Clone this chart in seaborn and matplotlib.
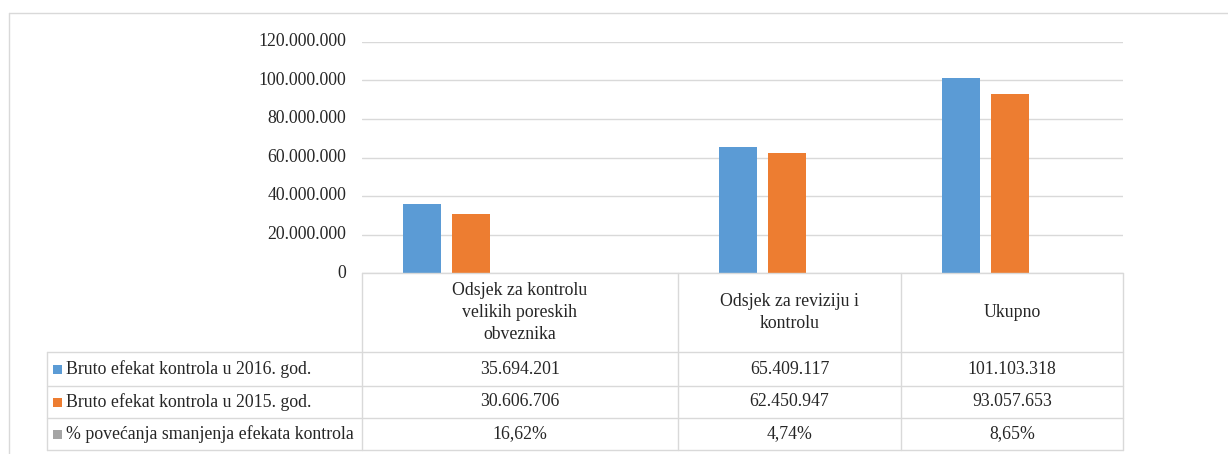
import numpy as np
import pandas as pd
import matplotlib
matplotlib.use("Agg")
import matplotlib.pyplot as plt
from matplotlib.lines import Line2D
from matplotlib.patches import Rectangle
import seaborn as sns

# ---------------- data ----------------
categories = ["Odsjek za kontrolu\nvelikih poreskih\nobveznika",
              "Odsjek za reviziju i\nkontrolu",
              "Ukupno"]
series_names = ["Bruto efekat kontrola u 2016. god.",
                "Bruto efekat kontrola u 2015. god.",
                "% povećanja smanjenja efekata kontrola"]
values_2016 = [35694201, 65409117, 101103318]
values_2015 = [30606706, 62450947, 93057653]
pct_change = [16.62, 4.74, 8.65]
yticks = [0, 20000000, 40000000, 60000000, 80000000, 100000000, 120000000]

# ---------------- style ----------------
sns.set_style("white")
plt.rcParams["font.family"] = ["Liberation Serif", "DejaVu Serif"]
BLUE, ORANGE, GRAY = "#5B9BD5", "#ED7D31", "#A5A5A5"
GRID = "#D9D9D9"
FS = 12.8

W, H = 1228, 454
fig = plt.figure(figsize=(W / 100, H / 100), dpi=100)


def fx(x):
    return x / W


def fy(y):
    return 1 - y / H


# layout (pixels)
plot_left, plot_right = 362, 1123
y_top, y_zero = 42, 273
col_widths = [316, 223, 222]
col_edges = np.concatenate([[0], np.cumsum(col_widths)])
group_offset = 84.5
bar_w, bar_gap = 38, 11

ax = fig.add_axes([fx(plot_left), fy(y_zero), (plot_right - plot_left) / W, (y_zero - y_top) / H])

pos = [col_edges[i] + group_offset for i in range(len(categories))]
df = pd.DataFrame({
    "pos": pos * 2,
    "series": [series_names[0]] * 3 + [series_names[1]] * 3,
    "value": values_2016 + values_2015,
})
min_dist = np.min(np.diff(sorted(pos)))
slot = bar_w + bar_gap
sns.barplot(data=df, x="pos", y="value", hue="series", native_scale=True,
            width=2 * slot / min_dist, gap=bar_gap / slot, saturation=1,
            palette=[BLUE, ORANGE], legend=False, ax=ax,
            hue_order=series_names[:2], linewidth=0, edgecolor="none")

ax.set_xlim(0, col_edges[-1])
ax.set_ylim(0, 120000000)
ax.set_yticks(yticks)
ax.set_yticklabels([])
ax.set_xticks([])
ax.set_xlabel("")
ax.set_ylabel("")
for s in ax.spines.values():
    s.set_visible(False)
ax.tick_params(left=False, bottom=False)
ax.set_axisbelow(True)
ax.yaxis.grid(True, color=GRID, linewidth=1.0)
ax.patch.set_alpha(0)


def fmt_int(v):
    return f"{v:,}".replace(",", ".")


def fmt_pct(v):
    return f"{v:.2f}%".replace(".", ",")


# y tick labels
for t in yticks:
    ypix = y_zero - (y_zero - y_top) * t / 120000000
    fig.text(fx(346), fy(ypix), fmt_int(t), ha="right", va="center", fontsize=FS)

# outer chart frame
lw = 1.0
fig.add_artist(Line2D([fx(8.5), fx(W + 5)], [fy(12.7), fy(12.7)], color=GRID, lw=lw))
fig.add_artist(Line2D([fx(8.5), fx(8.5)], [fy(12.7), fy(H + 5)], color=GRID, lw=lw))

# data table
row_lines = [352, 386, 418, 450]
label_left = 46.5
col_px = [plot_left + e for e in col_edges]
fig.add_artist(Line2D([fx(plot_left), fx(plot_right)], [fy(y_zero), fy(y_zero)], color=GRID, lw=lw))
for y in row_lines:
    fig.add_artist(Line2D([fx(label_left), fx(plot_right)], [fy(y), fy(y)], color=GRID, lw=lw))
fig.add_artist(Line2D([fx(label_left), fx(label_left)], [fy(352), fy(450)], color=GRID, lw=lw))
for x in col_px:
    fig.add_artist(Line2D([fx(x), fx(x)], [fy(y_zero), fy(450)], color=GRID, lw=lw))

# header texts
for i, c in enumerate(categories):
    cx = (col_px[i] + col_px[i + 1]) / 2
    fig.text(fx(cx), fy((y_zero + 352) / 2), c, ha="center", va="center",
             fontsize=FS, linespacing=1.35, multialignment="center")

rows = [
    (series_names[0], BLUE, [fmt_int(v) for v in values_2016]),
    (series_names[1], ORANGE, [fmt_int(v) for v in values_2015]),
    (series_names[2], GRAY, [fmt_pct(v) for v in pct_change]),
]
for r, (name, color, cells) in enumerate(rows):
    yc = (row_lines[r] + row_lines[r + 1]) / 2
    fig.add_artist(Rectangle((fx(53), fy(yc + 4.5)), 9 / W, 9 / H, color=color, lw=0))
    fig.text(fx(66), fy(yc), name, ha="left", va="center", fontsize=FS)
    for i, txt in enumerate(cells):
        cx = (col_px[i] + col_px[i + 1]) / 2
        fig.text(fx(cx), fy(yc), txt, ha="center", va="center", fontsize=FS)

fig.savefig("out.png", dpi=100)
